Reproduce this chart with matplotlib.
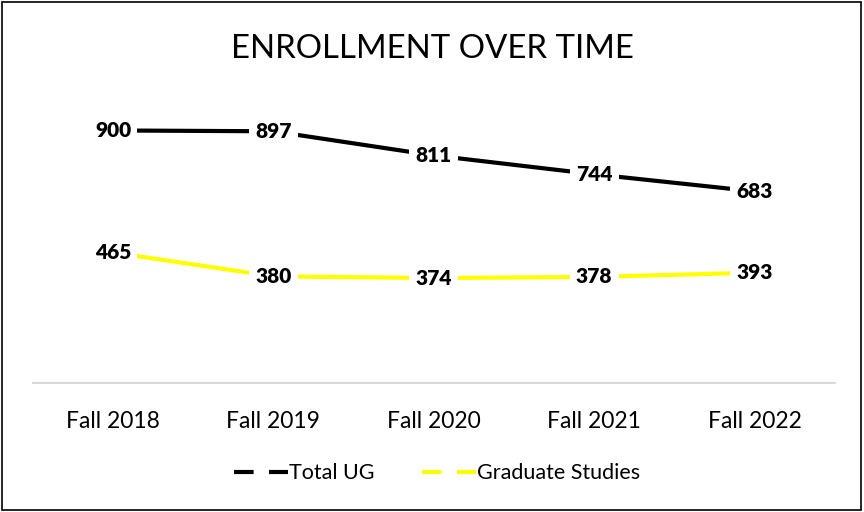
import matplotlib.pyplot as plt
from matplotlib.lines import Line2D
from matplotlib.patches import Rectangle

# Enrollment data
terms = ["Fall 2018", "Fall 2019", "Fall 2020", "Fall 2021", "Fall 2022"]
total_ug = [900, 897, 811, 744, 683]
grad_studies = [465, 380, 374, 378, 393]

plt.rcParams['font.family'] = ['Lato', 'DejaVu Sans']

fig = plt.figure(figsize=(8.64, 5.12), dpi=100)
ax = fig.add_axes([0.038, 0.252, 0.928, 0.548])

x = range(len(terms))
ax.plot(x, total_ug, color="black", lw=3, solid_capstyle="butt", zorder=2)
ax.plot(x, grad_studies, color="#FFFF00", lw=3, solid_capstyle="butt", zorder=2)

box = dict(boxstyle="square,pad=0.3", fc="white", ec="none")
for i, v in enumerate(total_ug):
    ax.text(i, v, str(v), ha="center", va="center", fontsize=15,
            fontweight="heavy", bbox=box, zorder=3)
for i, v in enumerate(grad_studies):
    ax.text(i, v, str(v), ha="center", va="center", fontsize=15,
            fontweight="heavy", bbox=box, zorder=3)

ax.set_xlim(-0.5, len(terms) - 0.5)
ax.set_ylim(0, 1000)
ax.set_yticks([])
ax.set_xticks(list(x))
ax.set_xticklabels(terms, fontsize=16.5)
ax.tick_params(axis="x", length=0, pad=20)
for s in ["top", "right", "left"]:
    ax.spines[s].set_visible(False)
ax.spines["bottom"].set_color("#d9d9d9")
ax.spines["bottom"].set_linewidth(1.5)

fig.text(0.5, 0.905, "ENROLLMENT OVER TIME", ha="center", va="center",
         fontsize=23.8)

handles = [Line2D([], [], color="black", lw=3, dashes=(4.7, 3.7)),
           Line2D([], [], color="#FFFF00", lw=3, dashes=(4.7, 3.7))]
fig.legend(handles, ["Total UG", "Graduate Studies"], loc="center",
           bbox_to_anchor=(0.506, 0.076), ncol=2, frameon=False, fontsize=15.5,
           handlelength=2.5, handletextpad=0.05, columnspacing=2.2)

fig.patches.append(Rectangle((0.002, 0.003), 0.995, 0.994, fill=False,
                             ec="black", lw=1.2, transform=fig.transFigure))

fig.savefig("out.png", dpi=100)
